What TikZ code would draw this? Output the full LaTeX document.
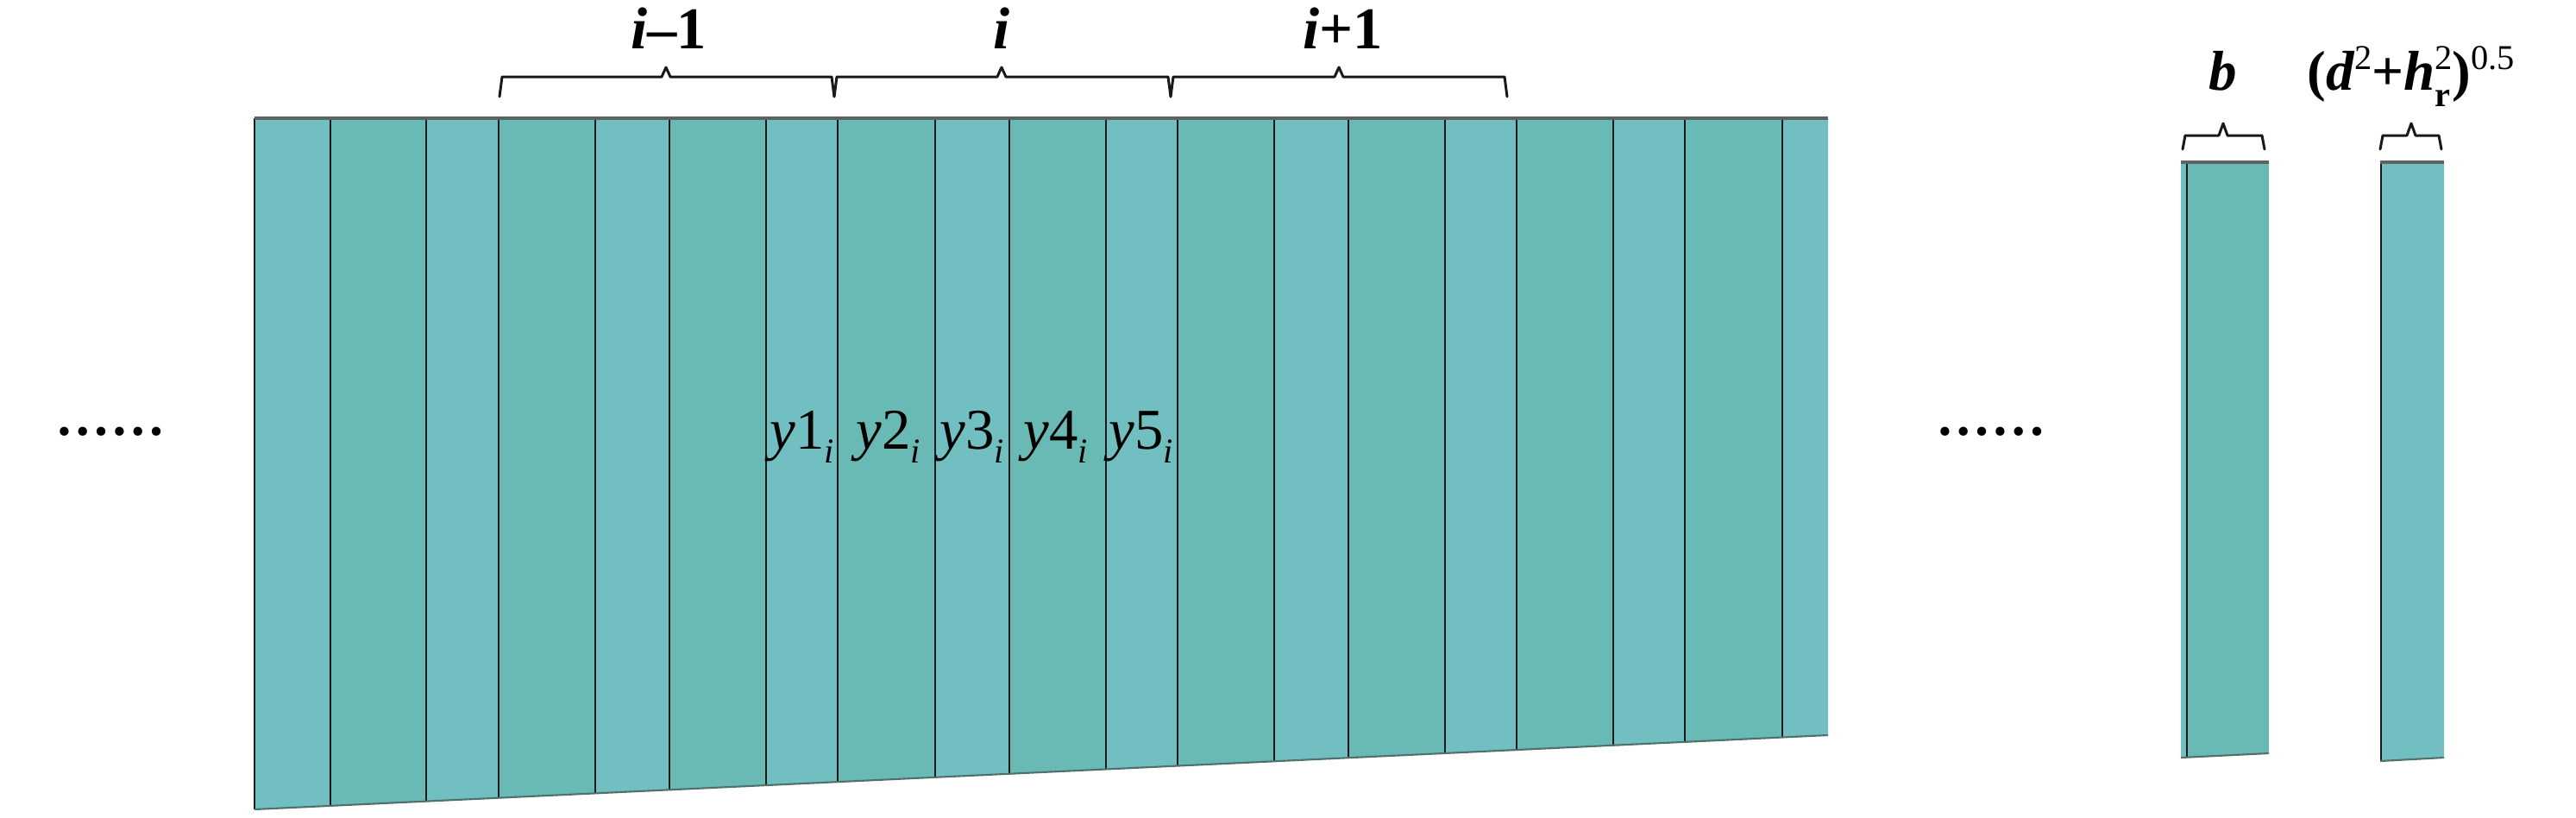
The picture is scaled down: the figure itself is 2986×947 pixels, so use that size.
\documentclass[tikz,border=0pt]{standalone}
\usepackage{fontspec}
\setmainfont{Liberation Serif}
\usepackage{graphicx}
\definecolor{lightstrip}{HTML}{71BFC0}
\definecolor{darkstrip}{HTML}{69BAB4}
\definecolor{edgegray}{HTML}{5C6362}
\definecolor{bottomedge}{HTML}{4F706D}
\tikzset{
  sepline/.style={draw=black!90, line width=0.8pt},
  topedge/.style={draw=edgegray, line width=0.9pt},
  botedge/.style={draw=bottomedge, line width=0.6pt},
  bracestyle/.style={draw=black!90, line width=0.85pt, line join=round, line cap=round},
  lab/.style={inner sep=0pt, anchor=base, font=\fontsize{19}{22}\selectfont},
  boldlab/.style={inner sep=0pt, anchor=base, font=\fontsize{19.5}{22}\selectfont\bfseries},
  rightlab/.style={inner sep=0pt, anchor=base, font=\fontsize{18.5}{22}\selectfont\bfseries},
  dotslab/.style={inner sep=0pt, anchor=base, font=\fontsize{18}{20}\selectfont\bfseries},
}
\newcommand\mybrace[6]{\draw[bracestyle] (#1,#5) -- (#1+3,#4) -- (#2-5,#4) -- (#2,#6) -- (#2+5,#4) -- (#3-3,#4) -- (#3,#5);}
\newcommand\mysup[1]{\raisebox{0.36em}{\fontsize{11.5}{12}\selectfont\mdseries #1}}
\newcommand\mysubr[1]{\raisebox{-0.3em}{\fontsize{11.5}{12}\selectfont #1}}
\newcommand\mysubi[1]{\raisebox{-0.24em}{\fontsize{11.5}{12}\selectfont #1}}
\begin{document}
\begin{tikzpicture}[x=0.01cm,y=-0.01cm]
\useasboundingbox (0,0) rectangle (2986,947);
% main strips
\foreach \xa/\xb/\c in {295/383/lightstrip, 383/494/darkstrip, 494/578/lightstrip, 578/690/darkstrip, 690/776/lightstrip, 776/888/darkstrip, 888/971/lightstrip, 971/1084/darkstrip, 1084/1170/lightstrip, 1170/1282/darkstrip, 1282/1365/lightstrip, 1365/1477/darkstrip, 1477/1563/lightstrip, 1563/1675/darkstrip, 1675/1758/lightstrip, 1758/1870/darkstrip, 1870/1953/lightstrip, 1953/2066/darkstrip, 2066/2119/lightstrip} {
  \pgfmathsetmacro\ya{938-(\xa-295)*0.04715}
  \pgfmathsetmacro\yb{938-(\xb-295)*0.04715}
  \fill[\c] (\xa,137) -- (\xb,137) -- (\xb,\yb) -- (\xa,\ya) -- cycle;
}
\foreach \x in {295,383,494,578,690,776,888,971,1084,1170,1282,1365,1477,1563,1675,1758,1870,1953,2066} {
  \pgfmathsetmacro\yy{938-(\x-295)*0.04715}
  \draw[sepline] (\x,137) -- (\x,\yy);
}
\draw[topedge] (295,137) -- (2119,137);
\draw[botedge] (295,938) -- (2119,852);
% right bars
\fill[darkstrip] (2528,188) -- (2630,188) -- (2630,873) -- (2528,878) -- cycle;
\fill[lightstrip] (2528,188) -- (2535,188) -- (2535,878) -- (2528,878) -- cycle;
\draw[sepline] (2535,188) -- (2535,878);
\draw[topedge] (2528,188) -- (2630,188);
\draw[botedge] (2528,878) -- (2630,873);
\fill[lightstrip] (2759,188) -- (2833,188) -- (2833,878) -- (2759,882) -- cycle;
\draw[sepline] (2760,188) -- (2760,882);
\draw[topedge] (2759,188) -- (2833,188);
\draw[botedge] (2759,882) -- (2833,878);
% braces
\mybrace{579}{772}{967}{89}{112}{78}
\mybrace{967}{1161}{1357}{89}{112}{78}
\mybrace{1357}{1552}{1747}{89}{112}{78}
\mybrace{2530}{2577}{2625}{157}{173}{143}
\mybrace{2759}{2795}{2830}{157}{173}{143}
% labels
\node[boldlab] (gim1) at (775,56) {{\itshape i}–1};
\node[boldlab] (gi) at (1161,56) {{\itshape i}};
\node[boldlab] (gip1) at (1557,56) {{\itshape i}+1};
\node[rightlab] (lb) at (2577,104) {{\itshape b}};
\node[rightlab] (lf) at (2795,104) {({\itshape d}\mysup{2}+{\itshape h}\rlap{\mysubr{r}}\mysup{2})\mysup{0.5}};
\node[lab] (y1) at (930,520) {{\itshape y}1\mysubi{\itshape i}};
\node[lab] (y2) at (1030,520) {{\itshape y}2\mysubi{\itshape i}};
\node[lab] (y3) at (1127,520) {{\itshape y}3\mysubi{\itshape i}};
\node[lab] (y4) at (1224,520) {{\itshape y}4\mysubi{\itshape i}};
\node[lab] (y5) at (1323,520) {{\itshape y}5\mysubi{\itshape i}};
\node[dotslab] (dl) at (128,504) {……};
\node[dotslab] (dr) at (2308,504) {……};
\end{tikzpicture}
\end{document}
